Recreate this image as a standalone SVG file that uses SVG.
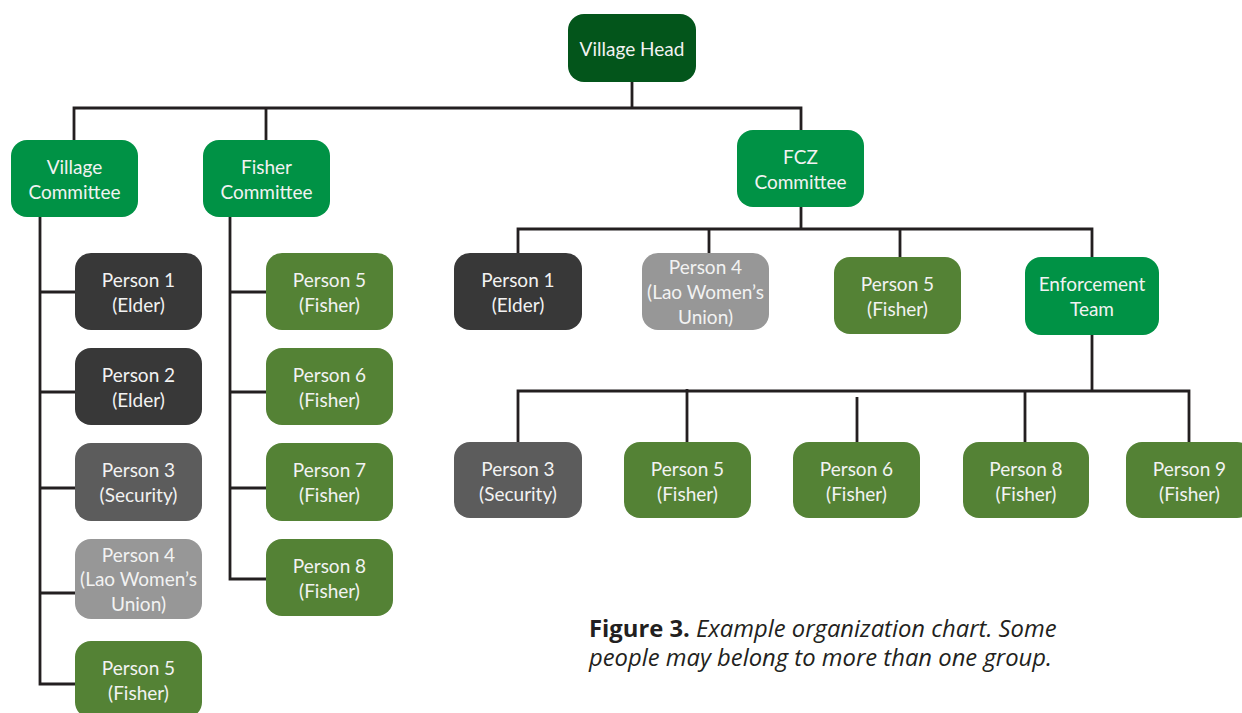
<svg xmlns="http://www.w3.org/2000/svg" width="1242" height="713" viewBox="0 0 1242 713">
  <style>
    .box { stroke: none; }
    .head { fill: #03551b; }
    .comm { fill: #009245; }
    .elder { fill: #383838; }
    .sec { fill: #5c5c5c; }
    .women { fill: #979797; }
    .fisher { fill: #548235; }
    .lbl { font-family: Lato, "Open Sans", sans-serif; font-size: 19px; fill: #f2f2f2; text-anchor: middle; }
    .wire { fill: none; stroke: #231f20; stroke-width: 2.8; stroke-linejoin: miter; }
    .cap { font-family: "Open Sans", Lato, sans-serif; font-size: 23.8px; fill: #231f20; }
  </style>

  <!-- connectors -->
  <g id="connectors" class="wire">
    <path d="M632 82 V108"/>
    <path d="M74 140 V108 H801 V130"/>
    <path d="M266 108 V140"/>
    <!-- Village Committee column -->
    <path d="M40 217 V684 H75"/>
    <path d="M40 292 H75 M40 392 H75 M40 488 H75 M40 593 H75"/>
    <!-- Fisher Committee column -->
    <path d="M230 217 V579 H266"/>
    <path d="M230 292 H266 M230 392 H266 M230 488 H266"/>
    <!-- FCZ Committee row -->
    <path d="M801 207 V229"/>
    <path d="M518 253 V229 H1092 V257"/>
    <path d="M709 229 V253 M900 229 V257"/>
    <!-- Enforcement Team row -->
    <path d="M1092 335 V391"/>
    <path d="M518 442 V391 H1189 V442"/>
    <path d="M687 389 V442 M857 397 V442 M1025 391 V442"/>
  </g>

  <!-- top -->
  <g id="village-head">
    <rect class="box head" x="568" y="14" width="128" height="68" rx="16"/>
    <text class="lbl" x="632" y="56">Village Head</text>
  </g>

  <g id="village-committee">
    <rect class="box comm" x="11" y="140" width="127" height="77" rx="16"/>
    <text class="lbl" x="74.5"><tspan x="74.5" y="174">Village</tspan><tspan x="74.5" y="199">Committee</tspan></text>
  </g>
  <g id="fisher-committee">
    <rect class="box comm" x="203" y="140" width="127" height="77" rx="16"/>
    <text class="lbl"><tspan x="266.5" y="174">Fisher</tspan><tspan x="266.5" y="199">Committee</tspan></text>
  </g>
  <g id="fcz-committee">
    <rect class="box comm" x="737" y="130" width="127" height="77" rx="16"/>
    <text class="lbl"><tspan x="800.5" y="164">FCZ</tspan><tspan x="800.5" y="189">Committee</tspan></text>
  </g>

  <!-- Village Committee members -->
  <g id="vc-person1">
    <rect class="box elder" x="75" y="253" width="127" height="77" rx="16"/>
    <text class="lbl"><tspan x="138.5" y="287">Person 1</tspan><tspan x="138.5" y="312">(Elder)</tspan></text>
  </g>
  <g id="vc-person2">
    <rect class="box elder" x="75" y="348" width="127" height="77" rx="16"/>
    <text class="lbl"><tspan x="138.5" y="382">Person 2</tspan><tspan x="138.5" y="407">(Elder)</tspan></text>
  </g>
  <g id="vc-person3">
    <rect class="box sec" x="75" y="443" width="127" height="78" rx="16"/>
    <text class="lbl"><tspan x="138.5" y="477">Person 3</tspan><tspan x="138.5" y="502">(Security)</tspan></text>
  </g>
  <g id="vc-person4">
    <rect class="box women" x="75" y="539" width="127" height="80" rx="16"/>
    <text class="lbl"><tspan x="138.5" y="562">Person 4</tspan><tspan x="138.5" y="586">(Lao Women’s</tspan><tspan x="138.5" y="611">Union)</tspan></text>
  </g>
  <g id="vc-person5">
    <rect class="box fisher" x="75" y="641" width="127" height="77" rx="16"/>
    <text class="lbl"><tspan x="138.5" y="675">Person 5</tspan><tspan x="138.5" y="700">(Fisher)</tspan></text>
  </g>

  <!-- Fisher Committee members -->
  <g id="fc-person5">
    <rect class="box fisher" x="266" y="253" width="127" height="77" rx="16"/>
    <text class="lbl"><tspan x="329.5" y="287">Person 5</tspan><tspan x="329.5" y="312">(Fisher)</tspan></text>
  </g>
  <g id="fc-person6">
    <rect class="box fisher" x="266" y="348" width="127" height="77" rx="16"/>
    <text class="lbl"><tspan x="329.5" y="382">Person 6</tspan><tspan x="329.5" y="407">(Fisher)</tspan></text>
  </g>
  <g id="fc-person7">
    <rect class="box fisher" x="266" y="443" width="127" height="78" rx="16"/>
    <text class="lbl"><tspan x="329.5" y="477">Person 7</tspan><tspan x="329.5" y="502">(Fisher)</tspan></text>
  </g>
  <g id="fc-person8">
    <rect class="box fisher" x="266" y="539" width="127" height="77" rx="16"/>
    <text class="lbl"><tspan x="329.5" y="573">Person 8</tspan><tspan x="329.5" y="598">(Fisher)</tspan></text>
  </g>

  <!-- FCZ Committee members -->
  <g id="fcz-person1">
    <rect class="box elder" x="454" y="253" width="128" height="77" rx="16"/>
    <text class="lbl"><tspan x="518" y="287">Person 1</tspan><tspan x="518" y="312">(Elder)</tspan></text>
  </g>
  <g id="fcz-person4">
    <rect class="box women" x="642" y="253" width="127" height="77" rx="16"/>
    <text class="lbl"><tspan x="705.5" y="274">Person 4</tspan><tspan x="705.5" y="299">(Lao Women’s</tspan><tspan x="705.5" y="324">Union)</tspan></text>
  </g>
  <g id="fcz-person5">
    <rect class="box fisher" x="834" y="257" width="127" height="77" rx="16"/>
    <text class="lbl"><tspan x="897.5" y="291">Person 5</tspan><tspan x="897.5" y="316">(Fisher)</tspan></text>
  </g>
  <g id="enforcement-team">
    <rect class="box comm" x="1025" y="257" width="134" height="78" rx="16"/>
    <text class="lbl"><tspan x="1092" y="291">Enforcement</tspan><tspan x="1092" y="316">Team</tspan></text>
  </g>

  <!-- Enforcement Team members -->
  <g id="et-person3">
    <rect class="box sec" x="454" y="442" width="128" height="76" rx="16"/>
    <text class="lbl"><tspan x="518" y="476">Person 3</tspan><tspan x="518" y="501">(Security)</tspan></text>
  </g>
  <g id="et-person5">
    <rect class="box fisher" x="624" y="442" width="127" height="76" rx="16"/>
    <text class="lbl"><tspan x="687.5" y="476">Person 5</tspan><tspan x="687.5" y="501">(Fisher)</tspan></text>
  </g>
  <g id="et-person6">
    <rect class="box fisher" x="793" y="442" width="127" height="76" rx="16"/>
    <text class="lbl"><tspan x="856.5" y="476">Person 6</tspan><tspan x="856.5" y="501">(Fisher)</tspan></text>
  </g>
  <g id="et-person8">
    <rect class="box fisher" x="963" y="442" width="126" height="76" rx="16"/>
    <text class="lbl"><tspan x="1026" y="476">Person 8</tspan><tspan x="1026" y="501">(Fisher)</tspan></text>
  </g>
  <g id="et-person9">
    <rect class="box fisher" x="1126" y="442" width="127" height="76" rx="16"/>
    <text class="lbl"><tspan x="1189.5" y="476">Person 9</tspan><tspan x="1189.5" y="501">(Fisher)</tspan></text>
  </g>

  <!-- caption -->
  <g id="caption" class="cap">
    <text x="589" y="637"><tspan font-weight="bold">Figure 3.</tspan><tspan font-style="italic"> Example organization chart. Some</tspan></text>
    <text x="589" y="666" font-style="italic">people may belong to more than one group.</text>
  </g>
</svg>
